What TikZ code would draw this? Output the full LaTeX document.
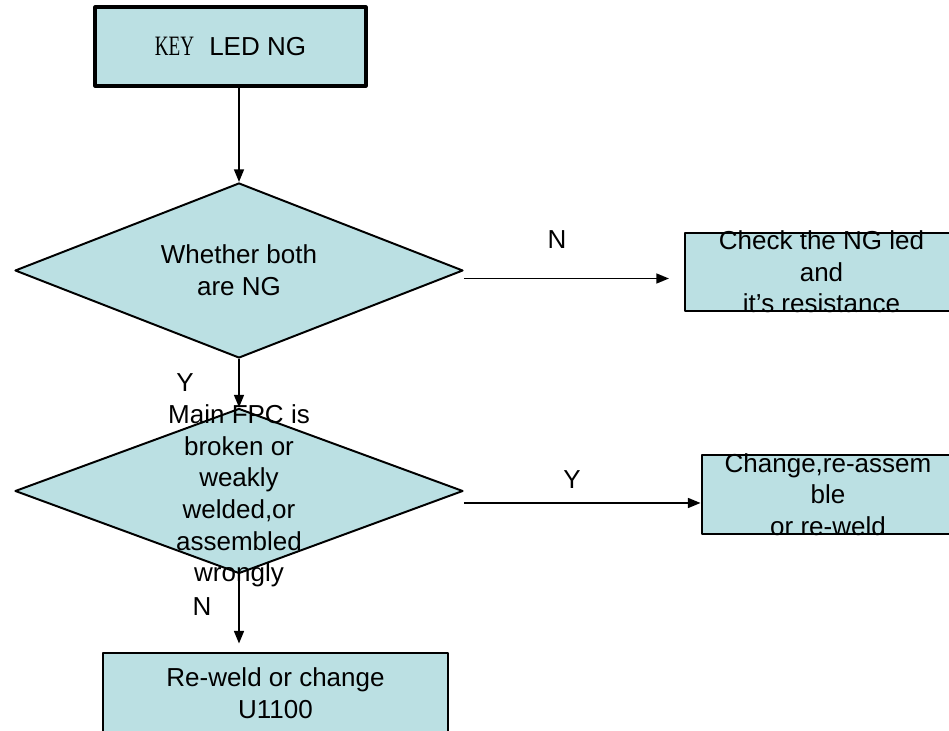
\documentclass[tikz,border=0pt]{standalone}
\usepackage{fontspec}
\setmainfont{Liberation Sans}
\newfontfamily\keyfont[Scale=1.08,FakeStretch=0.68]{Liberation Serif}
\usetikzlibrary{arrows.meta,positioning,calc,shapes.geometric}
\definecolor{boxfill}{RGB}{187,224,227}

\begin{document}
\begin{tikzpicture}[line join=round,
  font=\fontsize{18.5}{22.5}\selectfont,
  stepbox/.style={draw, fill=boxfill, line width=2pt, inner sep=0pt, align=center},
  ask/.style={diamond, aspect=2.56, draw, fill=boxfill, line width=1.4pt, inner sep=0pt, align=center},
  txt/.style={align=center, inner sep=0pt},
  arr/.style={line width=1.4pt, -{Triangle[length=9pt,width=7pt]}}]
\useasboundingbox (0,0) rectangle (23.725,18.275);
\node[stepbox, line width=2.2pt, minimum width=6.775cm, minimum height=1.975cm] (start) at (5.7625,17.1125) {{\keyfont KEY}\hspace{0.58em}LED NG};
\node[ask, minimum width=11.2cm, minimum height=4.375cm] (both) at (5.975,11.5125) {Whether both\\are NG};
\node[stepbox, line width=1.4pt, minimum width=6.825cm, minimum height=1.95cm] (checkled) at (20.5375,11.475) {};
\node[txt] (checkledtxt) at (checkled) {Check the NG led\\and\\it’s resistance};
\node[ask, minimum width=11.2cm, minimum height=4.125cm] (fpc) at (5.975,6.0) {};
\node[txt] (fpctxt) at ([yshift=-1.25mm]fpc.center) {Main FPC is\\broken or\\weakly\\welded,or\\assembled\\wrongly};
\node[stepbox, minimum width=6.3cm, minimum height=1.975cm] (reasm) at (20.7,5.9125) {};
\node[txt] (reasmtxt) at (reasm) {Change,re-assem\\ble\\or re-weld};
\node[stepbox, minimum width=8.625cm, minimum height=2cm] (reweld) at (6.8875,0.95) {Re-weld or change\\U1100};
% connectors
\draw[arr] (both.north |- start.south) -- (both.north);
\draw[arr] (both.south) -- (fpc.north);
\draw[arr] (fpc.south) -- ($(fpc.south |- reweld.north)+(0,0.2)$);
\draw[arr] ($(both.east)+(0,-0.2)$) -- ($(both.east -| checkled.west)+(-0.375,-0.2)$);
\draw[arr] ($(fpc.east)+(0,-0.3)$) -- ($(fpc.east -| reasm.west)+(0,-0.3)$);
% branch labels
\node (no1) at (13.925,12.275) {N};
\node (yes1) at (4.625,8.7) {Y};
\node (yes2) at (14.3,6.275) {Y};
\node (no2) at (5.05,3.1) {N};
\end{tikzpicture}
\end{document}
